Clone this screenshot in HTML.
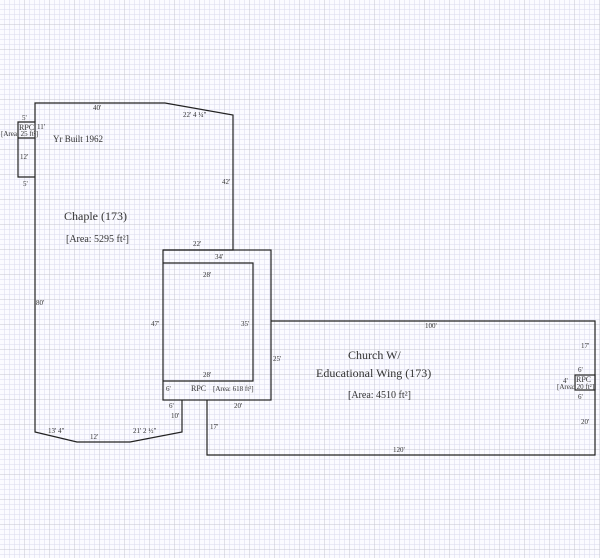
<!DOCTYPE html>
<html><head><style>
html,body{margin:0;padding:0;background:#fff;}
svg{display:block;}
text{font-family:"Liberation Serif",serif;fill:#333;}
</style></head><body>
<svg width="600" height="558" viewBox="0 0 600 558" xmlns="http://www.w3.org/2000/svg">
<defs>
<pattern id="g" width="5" height="5" patternUnits="userSpaceOnUse">
<path d="M5 0V5M0 5H5" stroke="#d9d9ee" stroke-width="1" fill="none"/>
</pattern>
<pattern id="G" width="25" height="25" patternUnits="userSpaceOnUse">
<path d="M25 0V25M0 25H25" stroke="#c4c4d2" stroke-width="1" fill="none"/>
</pattern>
</defs>
<rect width="600" height="558" fill="#fbfbff"/>
<rect width="600" height="558" fill="url(#g)"/>
<rect width="600" height="558" fill="url(#G)"/>
<g fill="none" stroke="#222" stroke-width="1.2">
<!-- Chaple -->
<polyline points="163,250 233,250 233,115 165,103 35,103 35,122"/>
<polyline points="35,138 35,432 77,442 130,442 182,432 182,400"/>
<polyline points="35,177 18,177 18,122 35,122 35,138 18,138"/>
<!-- middle box -->
<rect x="163" y="250" width="108" height="150"/>
<polyline points="163,263 253,263 253,381 163,381"/>
<!-- Church -->
<polyline points="271,321 595,321 595,455 207,455 207,400"/>
<rect x="575" y="375" width="20" height="15"/>
</g>
<g font-size="7">
<text x="93" y="110">40'</text>
<text x="183" y="117">22' 4 ¼"</text>
<text x="22" y="120">5'</text>
<text x="19" y="130" font-size="8">RPC</text>
<text x="37" y="129">11'</text>
<text x="1" y="136">[Area: 25 ft²]</text>
<text x="20" y="159">12'</text>
<text x="23" y="186">5'</text>
<text x="222" y="184">42'</text>
<text x="193" y="246">22'</text>
<text x="215" y="259">34'</text>
<text x="203" y="277">28'</text>
<text x="241" y="326">35'</text>
<text x="151" y="326">47'</text>
<text x="36" y="305">80'</text>
<text x="273" y="361">25'</text>
<text x="203" y="377">28'</text>
<text x="166" y="391">6'</text>
<text x="191" y="391" font-size="8">RPC</text>
<text x="213" y="391">[Area: 618 ft²]</text>
<text x="169" y="408">6'</text>
<text x="171" y="418">10'</text>
<text x="234" y="408">20'</text>
<text x="210" y="429">17'</text>
<text x="48" y="433">13' 4"</text>
<text x="90" y="439">12'</text>
<text x="133" y="433">21' 2 ½"</text>
<text x="425" y="328">100'</text>
<text x="581" y="348">17'</text>
<text x="578" y="372">6'</text>
<text x="563" y="383">4'</text>
<text x="576" y="382" font-size="8">RPC</text>
<text x="557" y="389">[Area: 20 ft²]</text>
<text x="578" y="399">6'</text>
<text x="581" y="424">20'</text>
<text x="393" y="452">120'</text>
</g>
<text x="53" y="142" font-size="9">Yr Built 1962</text>
<text x="64" y="220" font-size="12">Chaple (173)</text>
<text x="66" y="242" font-size="10">[Area: 5295 ft²]</text>
<text x="348" y="359" font-size="12">Church W/</text>
<text x="316" y="377" font-size="12">Educational Wing (173)</text>
<text x="348" y="398" font-size="10">[Area: 4510 ft²]</text>
</svg>
</body></html>
